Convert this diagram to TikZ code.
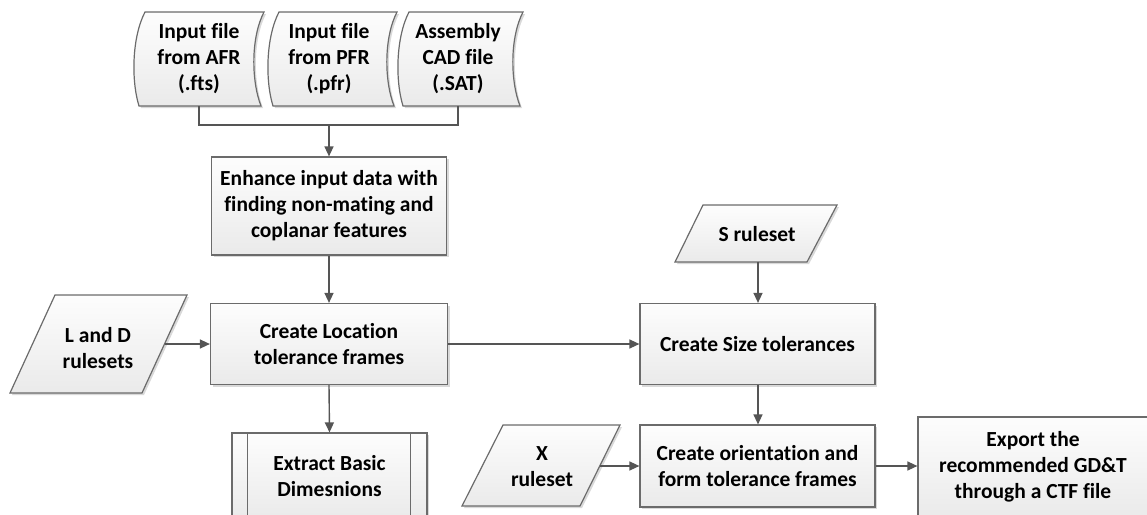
\documentclass[tikz,border=0pt]{standalone}
\usepackage{fontspec}
\setmainfont{Carlito}[Ligatures=NoCommon]
\usetikzlibrary{arrows.meta,calc,shadows}

\definecolor{edgegray}{HTML}{6B6B6B}
\definecolor{wiregray}{HTML}{555555}
\definecolor{filltop}{HTML}{FDFDFD}
\definecolor{fillbot}{HTML}{EAEAEA}

\tikzset{
  shapefill/.style={draw=edgegray, line width=1.2pt, top color=filltop, bottom color=fillbot,
    drop shadow={shadow xshift=2pt, shadow yshift=-2pt, fill=gray, opacity=0.3}},
  procbox/.style={shapefill, rectangle, align=center, inner sep=0pt},
  label/.style={align=center, inner sep=0pt},
  wire/.style={draw=wiregray, line width=1.4pt},
  flow/.style={wire, -{Triangle[length=10pt,width=9pt]}},
}

% stored-data outline: left extreme #1, top-right corner #2
\newcommand\storeddata[2]{%
  \path[shapefill] ({#1+12},12) -- (#2,12)
    .. controls ({#2-13},37) and ({#2-13},80) .. ({#2-3},106)
    -- ({#1+6},106)
    .. controls ({#1-2},80) and ({#1-1},37) .. ({#1+12},12) -- cycle;}

\begin{document}
\begin{tikzpicture}[x=1pt, y=-1pt, font=\fontsize{21.5}{26}\selectfont\bfseries]
\clip (0,0) rectangle (1147,514);
\useasboundingbox (0,0) rectangle (1147,514);

% input files
\storeddata{133}{264}
\storeddata{267}{397}
\storeddata{397}{523}
\node[label, minimum height=94pt] (afr) at (199,59) {Input file\\from AFR\\(.fts)};
\node[label, minimum height=94pt] (pfr) at (329,59) {Input file\\from PFR\\(.pfr)};
\node[label, minimum height=94pt] (sat) at (458,59) {Assembly\\CAD file\\(.SAT)};
\coordinate (join) at (329,125);

% main process chain
\node[procbox, minimum width=235pt, minimum height=98pt] (enhance) at (329,206)
  {Enhance input data with\\finding non-mating and\\coplanar features};
\node[procbox, minimum width=237pt, minimum height=81pt] (location) at (329,344)
  {Create Location\\tolerance frames};
\node[procbox, minimum width=195pt, minimum height=86pt] (extract) at (329.5,476)
  {Extract Basic\\Dimesnions};
\draw[edgegray, line width=1.2pt]
  ($(extract.north west)+(16,0)$) -- ($(extract.south west)+(16,0)$)
  ($(extract.north east)+(-17,0)$) -- ($(extract.south east)+(-17,0)$);

\node[procbox, minimum width=235pt, minimum height=81pt] (size) at (757.5,344)
  {Create Size tolerances};
\node[procbox, minimum width=235pt, minimum height=82pt] (orient) at (757.5,466)
  {Create orientation and\\form tolerance frames};
\node[procbox, minimum width=230pt, minimum height=100pt] (export) at (1033,467)
  {Export the\\recommended GD\&T\\through a CTF file};

% rule sets
\path[shapefill] (55,295) -- (187,295) -- (142,393) -- (10,393) -- cycle;
\node[label] (ld) at (98,348) {L and D\\rulesets};
\coordinate (ldR) at (164.5,344);

\path[shapefill] (703,205) -- (837,205) -- (807,262) -- (675,262) -- cycle;
\node[label] (srule) at (757,234) {S ruleset};
\coordinate (sB) at (758,262);

\path[shapefill] (503,425) -- (620,425) -- (580,506) -- (462,506) -- cycle;
\node[label] (xrule) at (542,467) {X\\ruleset};
\coordinate (xR) at (600,466);

% connectors
\draw[wire] (afr.south) |- (join) -| (sat.south);
\draw[flow] (join) -- (enhance.north);
\draw[flow] (enhance.south) -- (location.north);
\draw[flow] (location.south) -- (extract.north);
\draw[flow] (ldR) -- (ldR -| location.west);
\draw[flow] (location.east) -- (location.east -| size.west);
\draw[flow] (sB) -- (sB |- size.north);
\draw[flow] (sB |- size.south) -- (sB |- orient.north);
\draw[flow] (xR) -- (xR -| orient.west);
\draw[flow] (orient.east |- xR) -- (xR -| export.west);
\end{tikzpicture}
\end{document}
